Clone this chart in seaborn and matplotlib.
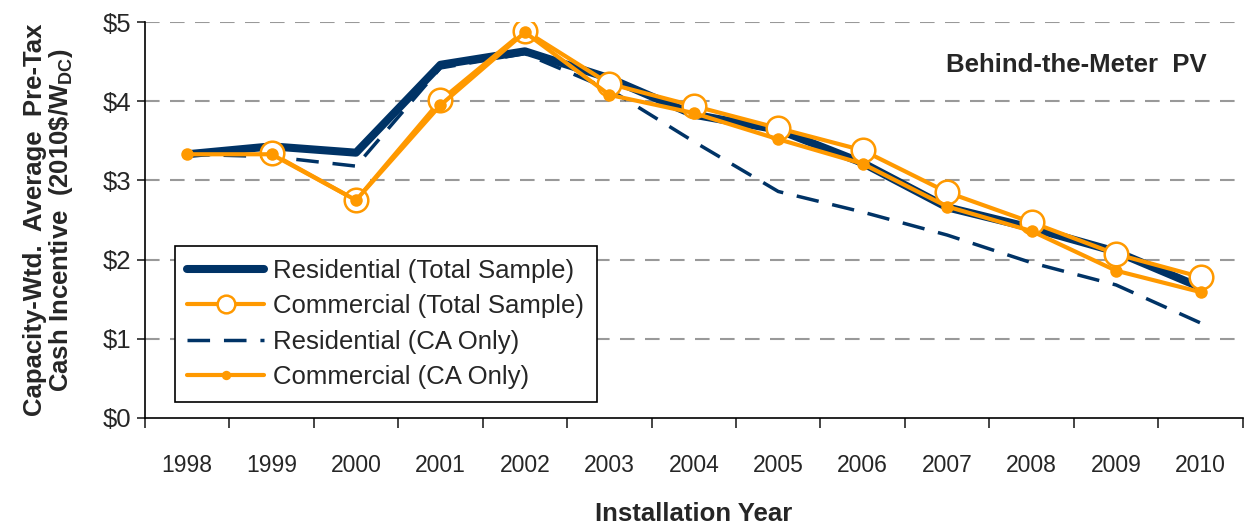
import pandas as pd
import seaborn as sns
import matplotlib.pyplot as plt

years = ['1998', '1999', '2000', '2001', '2002', '2003', '2004', '2005', '2006',
         '2007', '2008', '2009', '2010']
res_total = [3.33, 3.43, 3.35, 4.46, 4.63, 4.29, 3.83, 3.64, 3.22, 2.66, 2.40, 2.10, 1.65]
com_total = [None, 3.34, 2.75, 4.01, 4.89, 4.22, 3.94, 3.66, 3.38, 2.85, 2.47, 2.07, 1.78]
res_ca = [3.33, 3.30, 3.18, 4.42, 4.60, 4.15, 3.49, 2.86, 2.60, 2.31, 1.96, 1.68, 1.20]
com_ca = [3.33, 3.33, 2.75, 3.95, 4.87, 4.08, 3.85, 3.52, 3.21, 2.67, 2.36, 1.86, 1.59]

navy = '#003366'
orange = '#FF9900'

df = pd.DataFrame({
    'pos': range(len(years)),
    'res_total': res_total,
    'com_total': pd.array(com_total, dtype='Float64').astype(float),
    'res_ca': res_ca,
    'com_ca': com_ca,
})

sns.set_style('white')
plt.rcParams['font.family'] = ['Liberation Sans', 'DejaVu Sans']

fig = plt.figure(figsize=(12.49, 5.24), dpi=100)
ax = fig.add_axes([0.116, 0.2023, 0.879, 0.7557])

sns.lineplot(data=df, x='pos', y='res_total', ax=ax, color=navy, linewidth=5.8,
             label='Residential (Total Sample)', zorder=3)
sns.lineplot(data=df, x='pos', y='res_ca', ax=ax, color=navy, linewidth=2.5,
             label='Residential (CA Only)', zorder=2)
ax.lines[-1].set_dashes([6.5, 4])
sns.lineplot(data=df, x='pos', y='com_total', ax=ax, color=orange, linewidth=3,
             marker='o', markersize=17, markerfacecolor='white', markeredgecolor=orange,
             markeredgewidth=1.8, label='Commercial (Total Sample)', zorder=4)
sns.lineplot(data=df, x='pos', y='com_ca', ax=ax, color=orange, linewidth=3,
             marker='o', markersize=9, markeredgewidth=0,
             label='Commercial (CA Only)', zorder=5)

ax.set_xlim(-0.5, len(years) - 0.5)
ax.set_ylim(0, 5)
ax.set_yticks([0, 1, 2, 3, 4, 5])
ax.set_yticklabels(['$0', '$1', '$2', '$3', '$4', '$5'], fontsize=18.5)
ax.set_xticks(range(len(years)))
ax.set_xticklabels(years, fontsize=16.5)
ax.set_xticks([i - 0.5 for i in range(len(years) + 1)], minor=True)
ax.tick_params(axis='x', which='major', length=0, pad=26)
ax.tick_params(axis='x', which='minor', length=7, width=1.2, direction='out', bottom=True)
ax.tick_params(axis='y', length=6, width=1.2, direction='out', left=True, pad=4)

for y in [1, 2, 3, 4, 5]:
    ax.axhline(y, color='#999999', linewidth=1.5, dashes=(7, 5), zorder=0)

for side in ['top', 'right']:
    ax.spines[side].set_visible(False)
for side in ['left', 'bottom']:
    ax.spines[side].set_color('black')
    ax.spines[side].set_linewidth(1.2)

ax.set_xlabel('Installation Year', fontsize=18.5, fontweight='bold', labelpad=18)
ax.set_ylabel('Capacity-Wtd.  Average  Pre-Tax\nCash Incentive  (2010\\$/W$_{\\mathregular{DC}}$)',
              fontsize=18.5, fontweight='bold', labelpad=20, linespacing=1.0)

ax.text(0.848, 0.891, 'Behind-the-Meter  PV', transform=ax.transAxes,
        ha='center', va='center', fontsize=18.5, fontweight='bold')

handles, labels = ax.get_legend_handles_labels()
order = ['Residential (Total Sample)', 'Commercial (Total Sample)',
         'Residential (CA Only)', 'Commercial (CA Only)']
hmap = dict(zip(labels, handles))
leg = ax.legend([hmap[k] for k in order], order, loc='lower left',
                bbox_to_anchor=(0.027, 0.04), borderaxespad=0, fontsize=18.5, frameon=True,
                fancybox=False, edgecolor='black', framealpha=1,
                handlelength=3.0, borderpad=0.5, labelspacing=0.45, handletextpad=0.35)
leg.get_frame().set_linewidth(1.2)
for h in leg.legend_handles:
    if h.get_marker() == 'o':
        h.set_markersize(h.get_markersize() * 0.75)

fig.savefig('out.png', dpi=100)
